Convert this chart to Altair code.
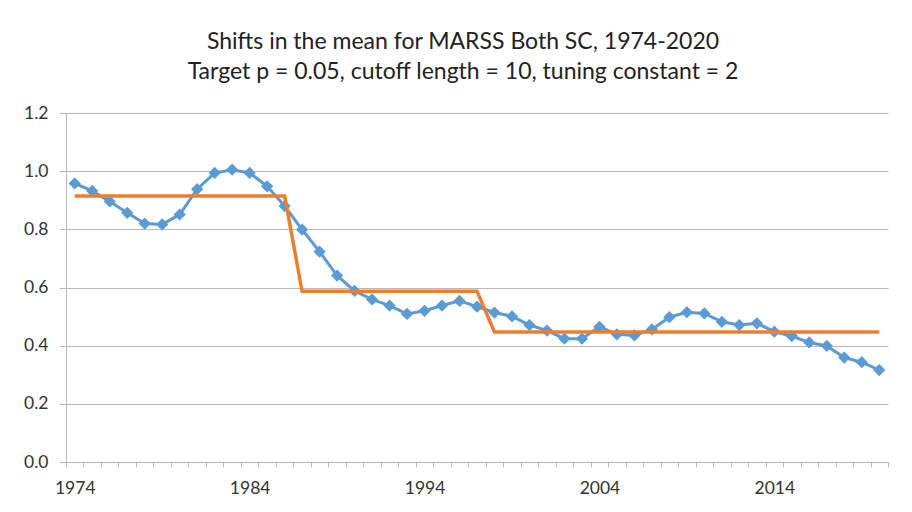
import altair as alt
import pandas as pd

years = list(range(1974, 2021))
mean_values = [
    0.958, 0.932, 0.896, 0.857, 0.820, 0.817, 0.851, 0.938, 0.994, 1.005,
    0.994, 0.948, 0.880, 0.799, 0.723, 0.641, 0.588, 0.559, 0.538, 0.509,
    0.520, 0.538, 0.554, 0.534, 0.514, 0.501, 0.471, 0.452, 0.424, 0.424,
    0.465, 0.439, 0.435, 0.456, 0.498, 0.515, 0.511, 0.482, 0.471, 0.477,
    0.448, 0.433, 0.411, 0.399, 0.359, 0.343, 0.316,
]
regime_starts = [1974, 1987, 1998]
regime_ends = [1986, 1997, 2020]
regime_means = [0.915, 0.587, 0.447]
tick_label_years = [1974, 1984, 1994, 2004, 2014]

shift_values = []
for y in years:
    for s, e, m in zip(regime_starts, regime_ends, regime_means):
        if s <= y <= e:
            shift_values.append(m)

df = pd.DataFrame({"year": years, "mean": mean_values, "shift": shift_values})

FONT = "Lato"
GRID = "#b9b9b9"
label_test = " || ".join(f"datum.value == {y}" for y in tick_label_years)

x_enc = alt.X(
    "year:O",
    scale=alt.Scale(type="band", paddingInner=0, paddingOuter=0),
    axis=alt.Axis(
        title=None,
        tickBand="extent",
        labelAngle=0,
        labelExpr=f"({label_test}) ? datum.label : ''",
        tickSize=5,
        tickColor=GRID,
        domainColor=GRID,
        labelPadding=12,
        labelFont=FONT,
        labelFontSize=17.5,
        labelColor="#333333",
        grid=False,
    ),
)
y_enc_kwargs = dict(
    scale=alt.Scale(domain=[0, 1.2], nice=False),
    axis=alt.Axis(
        title=None,
        values=[0, 0.2, 0.4, 0.6, 0.8, 1.0, 1.2],
        format=".1f",
        grid=True,
        gridColor=GRID,
        gridWidth=1,
        tickSize=7,
        tickColor=GRID,
        domainColor=GRID,
        labelPadding=11,
        labelFont=FONT,
        labelFontSize=17.5,
        labelColor="#333333",
    ),
)

blue = alt.Chart(df).mark_line(
    color="#5B9BD5", strokeWidth=3,
    point=alt.OverlayMarkDef(shape="diamond", size=150, color="#5B9BD5", filled=True, opacity=1),
).encode(x=x_enc, y=alt.Y("mean:Q", **y_enc_kwargs))

orange = alt.Chart(df).mark_line(color="#ED7D31", strokeWidth=3.5).encode(
    x=x_enc, y=alt.Y("shift:Q", **y_enc_kwargs)
)

chart = (
    alt.layer(blue, orange)
    .properties(
        width=822,
        height=349,
        autosize=alt.AutoSizeParams(type="none"),
        padding={"left": 58, "top": 105, "right": 16, "bottom": 42},
        title=alt.TitleParams(
            text=[
                "Shifts in the mean for MARSS Both SC, 1974-2020",
                "Target p = 0.05, cutoff length = 10, tuning constant = 2",
            ],
            font=FONT,
            fontSize=23,
            fontWeight="normal",
            color="#222222",
            lineHeight=30,
            anchor="middle",
            dx=-14,
            offset=20,
        ),
    )
    .configure_view(strokeWidth=0)
)

chart.save("out.html", embed_options={"renderer": "svg", "actions": False})
